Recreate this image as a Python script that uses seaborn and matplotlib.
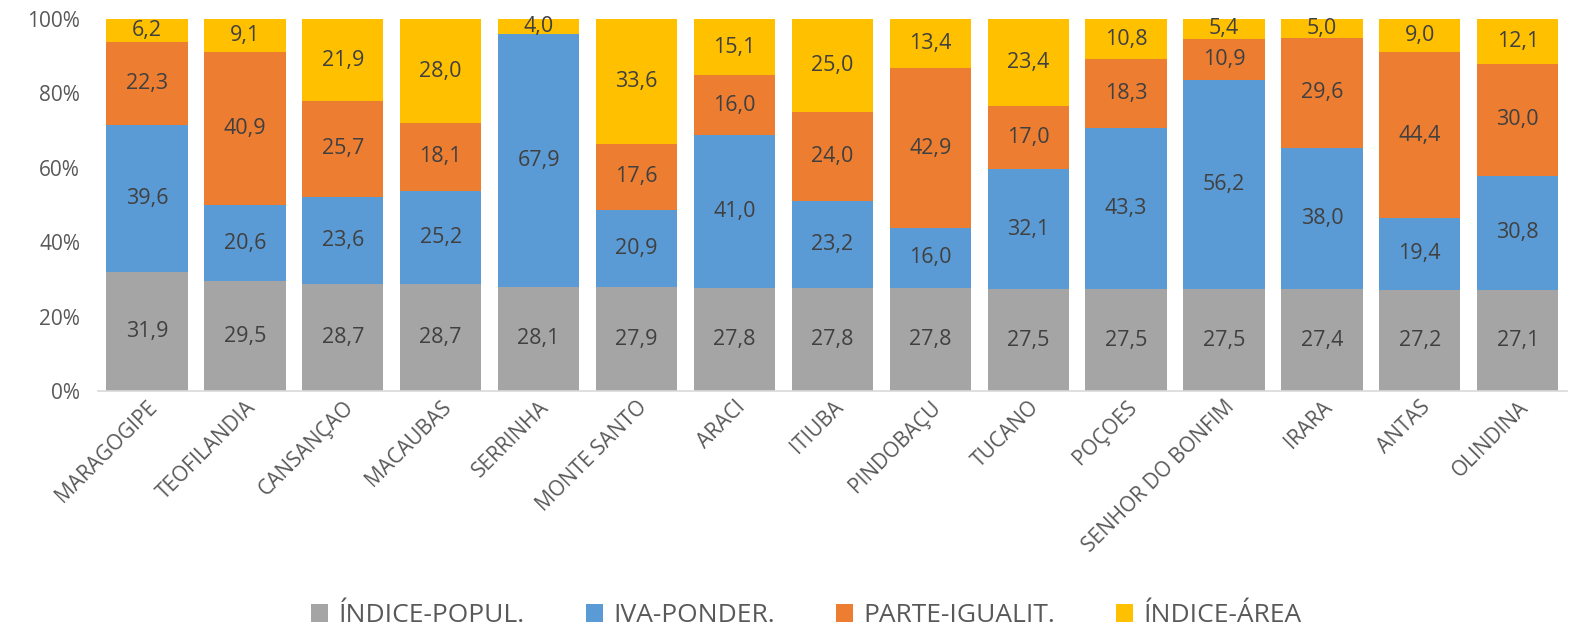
import matplotlib
matplotlib.use('Agg')
import matplotlib.pyplot as plt
import seaborn as sns
import numpy as np
import pandas as pd
from matplotlib.patches import Patch

# dados (%) por município
municipios = ["MARAGOGIPE", "TEOFILANDIA", "CANSANÇAO", "MACAUBAS", "SERRINHA",
              "MONTE SANTO", "ARACI", "ITIUBA", "PINDOBAÇU", "TUCANO", "POÇOES",
              "SENHOR DO BONFIM", "IRARA", "ANTAS", "OLINDINA"]
indice_popul = [31.9, 29.5, 28.7, 28.7, 28.1, 27.9, 27.8, 27.8, 27.8, 27.5, 27.5, 27.5, 27.4, 27.2, 27.1]
iva_ponder = [39.6, 20.6, 23.6, 25.2, 67.9, 20.9, 41.0, 23.2, 16.0, 32.1, 43.3, 56.2, 38.0, 19.4, 30.8]
parte_igualit = [22.3, 40.9, 25.7, 18.1, 0.0, 17.6, 16.0, 24.0, 42.9, 17.0, 18.3, 10.9, 29.6, 44.4, 30.0]
indice_area = [6.2, 9.1, 21.9, 28.0, 4.0, 33.6, 15.1, 25.0, 13.4, 23.4, 10.8, 5.4, 5.0, 9.0, 12.1]

series = ["ÍNDICE-POPUL.", "IVA-PONDER.", "PARTE-IGUALIT.", "ÍNDICE-ÁREA"]
cores = ["#A5A5A5", "#5B9BD5", "#ED7D31", "#FFC000"]

sns.set_theme(style="white")
plt.rcParams['font.family'] = ['Open Sans', 'DejaVu Sans']

df = pd.DataFrame({"mun": municipios, series[0]: indice_popul, series[1]: iva_ponder,
                   series[2]: parte_igualit, series[3]: indice_area})
valores = df[series].to_numpy()
cum = np.cumsum(valores, axis=1)

fig = plt.figure(figsize=(15.69, 6.3), dpi=100)
ax = fig.add_axes([0.0625, 0.379, 0.936, 0.591])

# barras empilhadas: desenha do topo para a base (sobreposição)
for j in range(len(series) - 1, -1, -1):
    sns.barplot(x=df["mun"], y=cum[:, j], color=cores[j], ax=ax, width=0.83,
                saturation=1, linewidth=0)

# rótulos de dados
for i in range(len(municipios)):
    base = 0
    for j in range(len(series)):
        v = valores[i, j]
        if v > 0:
            ax.text(i, base + v / 2, f"{v:.1f}".replace(".", ","), ha='center',
                    va='center', fontsize=15.5, color="#404040")
        base += v

ax.set_ylim(0, 100)
ax.set_xlim(-0.5, len(municipios) - 0.5)
ax.set_yticks(range(0, 101, 20))
ax.set_yticklabels([f"{t}%" for t in range(0, 101, 20)], fontsize=15, color="#595959")
ax.set_xticks(range(len(municipios)))
ax.set_xticklabels(municipios, rotation=45, ha='right', rotation_mode='anchor',
                   fontsize=15, color="#595959")
ax.set_xlabel("")
ax.set_ylabel("")
ax.tick_params(axis='x', length=0, pad=4)
ax.tick_params(axis='y', length=0, pad=13)
for s in ["top", "right", "left"]:
    ax.spines[s].set_visible(False)
ax.spines["bottom"].set_color("#D9D9D9")
ax.spines["bottom"].set_linewidth(1.2)

handles = [Patch(facecolor=c, edgecolor='none') for c in cores]
fig.legend(handles, series, loc='lower center', bbox_to_anchor=(0.514, -0.035), ncol=4,
           frameon=False, fontsize=19, handlelength=0.65, handleheight=0.65,
           handletextpad=0.4, columnspacing=2.3, labelcolor="#595959")

fig.savefig("out.png", dpi=100)
